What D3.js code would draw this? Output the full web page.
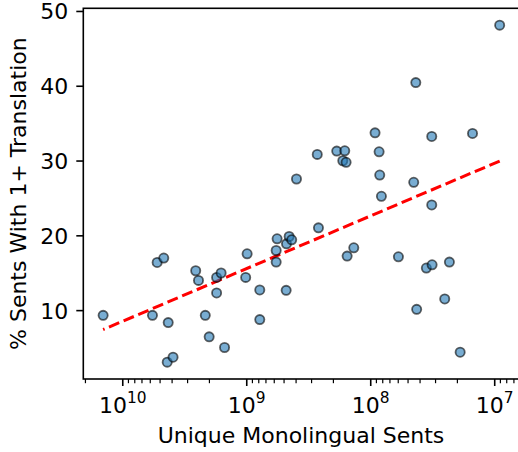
<!DOCTYPE html>
<html><head><meta charset="utf-8">
<script src="https://cdn.jsdelivr.net/npm/d3@7"></script>
<style>
html,body{margin:0;padding:0;background:#fff;}
svg{display:block;font-family:"DejaVu Sans",sans-serif;}
</style></head>
<body><div id="chart"></div>
<script>
// Unique monolingual sentences per language (x) and % sentences with 1+ translation (y)
const monoSents = [1.44e10,5.76e9,5.28e9,4.67e9,4.30e9,4.38e9,3.93e9,2.58e9,2.45e9,2.16e9,
  2.01e9,1.75e9,1.61e9,1.75e9,1.51e9,9.93e8,1.02e9,7.85e8,7.85e8,5.69e8,
  5.79e8,5.79e8,4.81e8,4.78e8,4.55e8,4.34e8,3.97e8,2.70e8,2.64e8,1.88e8,
  1.62e8,1.68e8,1.58e8,1.55e8,1.37e8,9.23e7,8.56e7,8.46e7,8.20e7,5.98e7,
  4.50e7,4.33e7,4.26e7,3.56e7,3.20e7,3.22e7,3.22e7,2.53e7,2.32e7,1.90e7,
  1.51e7,9.12e6];
const pctTranslated = [9.37,9.37,16.44,17.03,8.4,3.11,3.77,15.33,14.04,9.37,
  6.49,14.44,15.03,12.36,5.07,17.6,14.44,12.76,8.8,19.6,
  18.04,16.49,12.71,18.93,19.91,19.47,27.6,30.89,21.07,31.33,
  31.37,30.04,29.83,17.29,18.4,33.77,31.24,28.13,25.29,17.2,
  27.16,40.49,10.17,15.69,16.13,33.29,24.13,11.56,16.49,4.44,
  33.69,48.17];
// Fitted trend line values at the smallest and largest x
const fitY = [30.0, 7.47];
const xMajorTicks = [1e10, 1e9, 1e8, 1e7];
const yTicks = [10, 20, 30, 40, 50];
const xLabel = "Unique Monolingual Sents";
const yLabel = "% Sents With 1+ Translation";

const W = 518, H = 452;
const m = {left: 83.3, top: 8.3};
const pw = 436.2, ph = 370.7;

const data = monoSents.map((x,i)=>({x, y: pctTranslated[i]}));
const lx = monoSents.map(Math.log10);
const lmin = d3.min(lx), lmax = d3.max(lx), lpad = (lmax-lmin)*0.05;
const ymin = d3.min(pctTranslated), ymax = d3.max(pctTranslated), ypad = (ymax-ymin)*0.05;

const x = d3.scaleLog().domain([Math.pow(10,lmax+lpad), Math.pow(10,lmin-lpad)]).range([0,pw]);
const y = d3.scaleLinear().domain([ymin-ypad, ymax+ypad]).range([ph,0]);

const svg = d3.select("#chart").append("svg").attr("width",W).attr("height",H);
svg.append("defs").append("clipPath").attr("id","clip")
  .append("rect").attr("width",pw).attr("height",ph);
const g = svg.append("g").attr("transform",`translate(${m.left},${m.top})`);

// trend line
const xs = [d3.min(monoSents), d3.max(monoSents)];
g.append("path").attr("clip-path","url(#clip)")
  .attr("d", d3.line()(xs.map((v,i)=>[x(v), y(fitY[i])])))
  .attr("fill","none").attr("stroke","#ff0000").attr("stroke-width",3)
  .attr("stroke-dasharray","11.1,4.8");

// points
g.append("g").attr("clip-path","url(#clip)").selectAll("circle").data(data).join("circle")
  .attr("cx",d=>x(d.x)).attr("cy",d=>y(d.y)).attr("r",4.6)
  .attr("fill","#1f77b4").attr("fill-opacity",0.6)
  .attr("stroke","#000").attr("stroke-opacity",0.6).attr("stroke-width",1.8);

// x axis
const dom = x.domain();
const minor = [];
for (let e=6;e<=10;e++) for (let k=2;k<=9;k++){const v=k*Math.pow(10,e); if(v<=dom[0]&&v>=dom[1]) minor.push(v);}
const xa = g.append("g").attr("transform",`translate(0,${ph})`);
xa.selectAll("line.minor").data(minor).join("line").attr("class","minor")
  .attr("x1",d=>x(d)).attr("x2",d=>x(d)).attr("y1",0).attr("y2",4.2)
  .attr("stroke","#000").attr("stroke-width",1.2);
xa.selectAll("line.major").data(xMajorTicks).join("line").attr("class","major")
  .attr("x1",d=>x(d)).attr("x2",d=>x(d)).attr("y1",0).attr("y2",7)
  .attr("stroke","#000").attr("stroke-width",1.6);
const xt = xa.selectAll("text").data(xMajorTicks).join("text")
  .attr("x",d=>x(d)).attr("y",34).attr("text-anchor","middle")
  .attr("font-size",22).attr("fill","#000");
xt.append("tspan").text("10");
xt.append("tspan").attr("dy","-0.62em").attr("font-size","15.4px").text(d=>Math.round(Math.log10(d)));

// y axis
const ya = g.append("g");
ya.selectAll("line").data(yTicks).join("line")
  .attr("x1",-7).attr("x2",0).attr("y1",d=>y(d)).attr("y2",d=>y(d))
  .attr("stroke","#000").attr("stroke-width",1.6);
ya.selectAll("text").data(yTicks).join("text")
  .attr("x",-15).attr("y",d=>y(d)).attr("dy","0.36em").attr("text-anchor","end")
  .attr("font-size",22).attr("fill","#000").text(d=>d);

// frame
g.append("rect").attr("width",pw).attr("height",ph).attr("fill","none")
  .attr("stroke","#000").attr("stroke-width",1.6);

// labels
svg.append("text").attr("x",301).attr("y",443)
  .attr("text-anchor","middle").attr("font-size",22).text(xLabel);
svg.append("text").attr("transform",`translate(26,${m.top+ph/2}) rotate(-90)`)
  .attr("text-anchor","middle").attr("font-size",22).text(yLabel);
</script></body></html>
